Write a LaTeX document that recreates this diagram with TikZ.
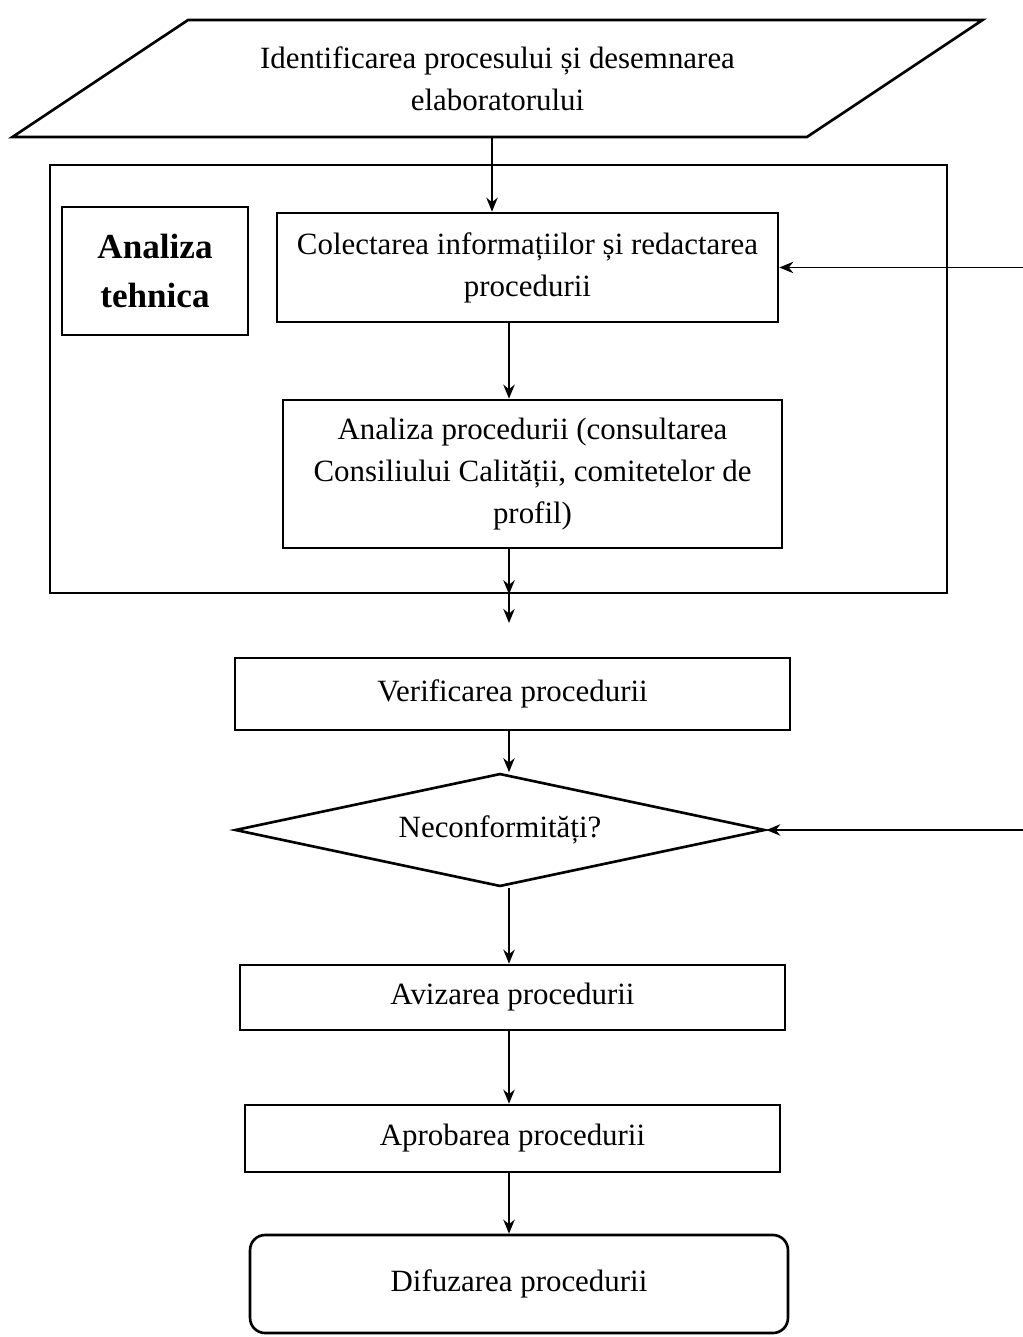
\documentclass[tikz,border=0pt]{standalone}
\usepackage{fontspec}
\setmainfont{Liberation Serif}
\usetikzlibrary{arrows.meta,shapes.geometric,positioning}

\begin{document}
\begin{tikzpicture}[x=0.02cm,y=-0.02cm,>={Stealth[length=8pt,width=6.5pt]},
  every node/.style={font=\fontsize{17.6}{24}\selectfont,align=center},
  bloc/.style={draw,line width=1.5pt,inner sep=0pt},
  sageata/.style={->,line width=1.1pt}]
\useasboundingbox (0,0) rectangle (1023,1337);
\node[bloc,trapezium,trapezium left angle=25.5,trapezium right angle=154.5,
  trapezium stretches=true,minimum width=19.5cm,minimum height=2.34cm] (ident) at (497.5,78.5)
  {Identificarea procesului și desemnarea\\elaboratorului};
\node[bloc,minimum width=17.94cm,minimum height=8.56cm] (grup) at (498.5,379) {};
\node[bloc,minimum width=3.72cm,minimum height=2.56cm,font=\fontsize{20}{28}\selectfont\bfseries] (tehnica) at (155,271) {Analiza\\tehnica};
\node[bloc,minimum width=10.02cm,minimum height=2.18cm] (colect) at (527.5,267.5)
  {Colectarea informațiilor și redactarea\\procedurii};
\node[bloc,minimum width=9.98cm,minimum height=2.96cm] (analiza) at (532.5,474)
  {Analiza procedurii (consultarea\\Consiliului Calității, comitetelor de\\profil)};
\node[bloc,minimum width=11.1cm,minimum height=1.44cm] (verif) at (512.5,694) {Verificarea procedurii};
\node[bloc,diamond,aspect=4.7,minimum width=10.6cm,minimum height=2.26cm] (neconf) at (500,830) {Neconformități?};
\node[bloc,minimum width=10.9cm,minimum height=1.3cm] (aviz) at (512.5,997.5) {Avizarea procedurii};
\node[bloc,minimum width=10.7cm,minimum height=1.34cm] (aprob) at (512.5,1138.5) {Aprobarea procedurii};
\node[bloc,rounded corners=0.3cm,minimum width=10.76cm,minimum height=1.96cm] (difuz) at (519,1284) {Difuzarea procedurii};

\coordinate (axa) at (509,0);
\coordinate (sub) at (509,623);
\coordinate (retur) at (1045,0);
\draw[sageata] (ident.south -| 492,0) -- (colect.north -| 492,0);
\draw[sageata] (colect.south -| axa) -- (analiza.north -| axa);
\draw[sageata] (analiza.south -| axa) -- (grup.south -| axa);
\draw[sageata] (grup.south -| axa) -- (sub);
\draw[sageata] (verif.south -| axa) -- (neconf.north -| axa);
\draw[sageata] (neconf.south -| axa) -- (aviz.north -| axa);
\draw[sageata] (aviz.south -| axa) -- (aprob.north -| axa);
\draw[sageata] (aprob.south -| axa) -- (difuz.north -| axa);
\draw[sageata,<->] (neconf.east) -- (neconf.east -| retur) |- (colect.east);
\end{tikzpicture}
\end{document}
